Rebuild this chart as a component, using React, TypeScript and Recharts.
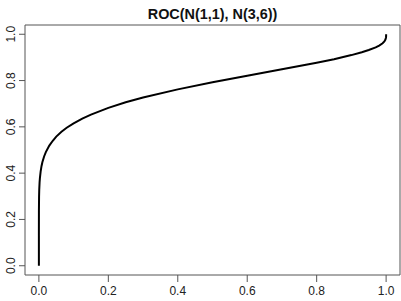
import { LineChart, Line, XAxis, YAxis, ReferenceArea } from 'recharts'

// false positive rate / true positive rate
const fpr = [0, 0, 0.0001, 0.0005, 0.001, 0.002, 0.003, 0.005, 0.0075, 0.01, 0.015, 0.02, 0.03, 0.04, 0.05, 0.065, 0.08, 0.1, 0.125, 0.15, 0.2, 0.25, 0.3, 0.4, 0.5, 0.6, 0.7, 0.8, 0.85, 0.9, 0.93, 0.95, 0.97, 0.98, 0.99, 0.995, 0.998, 0.9995, 1, 1]
const tpr = [0, 0.13, 0.24, 0.299, 0.328, 0.36, 0.38, 0.407, 0.43, 0.447, 0.472, 0.491, 0.519, 0.54, 0.558, 0.579, 0.596, 0.615, 0.636, 0.653, 0.682, 0.706, 0.727, 0.762, 0.793, 0.821, 0.849, 0.877, 0.892, 0.91, 0.922, 0.932, 0.943, 0.951, 0.961, 0.969, 0.977, 0.985, 0.992, 1]
const xTicks = [0, 0.2, 0.4, 0.6, 0.8, 1]
const yTicks = [0, 0.2, 0.4, 0.6, 0.8, 1]
const title = 'ROC(N(1,1), N(3,6))'

const data = fpr.map((x, i) => ({ x, y: tpr[i] }))

const font = 'Liberation Sans, Arial, Helvetica, sans-serif'

function XTick ({ x, payload }: any) {
  return (
    <text x={x} y={295} textAnchor="middle" fontSize={12} fontFamily={font} fill="#222">
      {payload.value.toFixed(1)}
    </text>
  )
}

function YTick ({ y, payload }: any) {
  return (
    <text x={15} y={y} transform={`rotate(-90, 15, ${y})`} textAnchor="middle" fontSize={12} fontFamily={font} fill="#222">
      {payload.value.toFixed(1)}
    </text>
  )
}

export default function App () {
  return (
    <div style={{ position: 'absolute', left: 0, top: 0, width: 401, height: 301, background: '#fff' }}>
      <LineChart width={401} height={301} data={data} margin={{ top: 25, right: 1, bottom: 0, left: 0 }}>
        <text x={212.5} y={19} textAnchor="middle" fontSize={14.4} fontWeight="bold" fontFamily={font} fill="#111">
          {title}
        </text>
        <XAxis
          dataKey="x"
          type="number"
          domain={[-0.04, 1.04]}
          ticks={xTicks}
          height={26}
          axisLine={false}
          tickLine={{ stroke: '#555' }}
          tickSize={7}
          tick={<XTick />}
          interval={0}
          allowDataOverflow
        />
        <YAxis
          type="number"
          domain={[-0.04, 1.04]}
          ticks={yTicks}
          width={25}
          axisLine={false}
          tickLine={{ stroke: '#555' }}
          tickSize={6}
          tick={<YTick />}
          interval={0}
          allowDataOverflow
        />
        <ReferenceArea x1={-0.04} x2={1.04} y1={-0.04} y2={1.04} fill="none" stroke="#555" strokeWidth={1} ifOverflow="visible" />
        <Line dataKey="y" type="linear" stroke="#000" strokeWidth={2} dot={false} isAnimationActive={false} />
      </LineChart>
    </div>
  )
}
